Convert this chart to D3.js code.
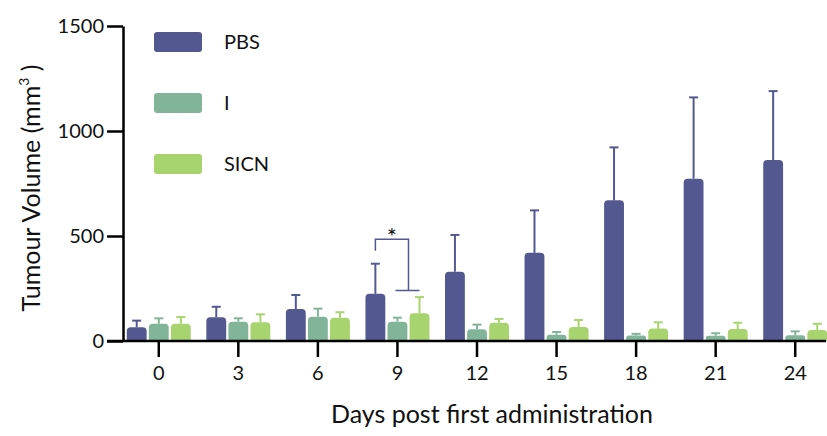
<!DOCTYPE html>
<html>
<head>
<meta charset="utf-8">
<script src="https://d3js.org/d3.v7.min.js"></script>
<style>
  body { margin: 0; background: #fff; }
  text { font-family: Lato, "Open Sans", sans-serif; fill: #111; }
</style>
</head>
<body>
<svg id="chart" width="827" height="436"></svg>
<script>
// data
const days = ["0", "3", "6", "9", "12", "15", "18", "21", "24"];
const groups = ["PBS", "I", "SICN"];
const pbsMean = [65, 113, 152, 225, 330, 420, 670, 773, 862];
const pbsSd   = [32, 50, 67, 143, 175, 202, 252, 387, 328];
const iMean   = [82, 92, 116, 92, 56, 30, 26, 25, 27];
const iSd     = [26, 16, 38, 19, 22, 13, 8, 12, 19];
const sicnMean = [82, 89, 111, 132, 87, 67, 59, 57, 52];
const sicnSd   = [32, 38, 26, 77, 18, 33, 30, 30, 30];
const yTicks = [0, 500, 1000, 1500];
const colors = ["#535891", "#82b49a", "#a8d46f"];
// significance bracket at day 9: top, left leg end, right leg end
const sigDay = "9";
const sigLevels = [484, 430, 241];

const svg = d3.select("#chart");
const mLeft = 123, mBottom = 341, mTop = 26;

const x = d3.scaleBand().domain(days).range([119, 835]).padding(0);
const xs = d3.scaleBand().domain(groups).range([-32, 32]).paddingInner(0.1);
const y = d3.scaleLinear().domain([0, 1500]).range([mBottom, mTop]);
const color = d3.scaleOrdinal().domain(groups).range(colors);

const means = { PBS: pbsMean, I: iMean, SICN: sicnMean };
const sds = { PBS: pbsSd, I: iSd, SICN: sicnSd };

const rows = [];
days.forEach((d, i) => groups.forEach(g => rows.push({ day: d, group: g, mean: means[g][i], sd: sds[g][i] })));

const cx = d => x(d.day) + x.bandwidth() / 2 + xs(d.group) + xs.bandwidth() / 2;

function barPath(d) {
  const w = xs.bandwidth(), x0 = cx(d) - w / 2, x1 = x0 + w;
  const y0 = y(0), y1 = y(d.mean);
  const r = Math.min(4, (y0 - y1) / 2);
  return `M${x0},${y0}V${y1 + r}Q${x0},${y1} ${x0 + r},${y1}H${x1 - r}Q${x1},${y1} ${x1},${y1 + r}V${y0}Z`;
}

// error bars (upper only)
const eb = svg.append("g").selectAll("g").data(rows).join("g")
  .attr("stroke", d => color(d.group)).attr("stroke-width", 2);
eb.append("line")
  .attr("x1", cx).attr("x2", cx)
  .attr("y1", d => y(d.mean)).attr("y2", d => y(d.mean + d.sd));
eb.append("line")
  .attr("x1", d => cx(d) - 4.5).attr("x2", d => cx(d) + 4.5)
  .attr("y1", d => y(d.mean + d.sd)).attr("y2", d => y(d.mean + d.sd));

// bars
svg.append("g").selectAll("path").data(rows).join("path")
  .attr("d", barPath)
  .attr("fill", d => color(d.group));

// axes
const yAxis = svg.append("g").attr("transform", `translate(${mLeft},0)`)
  .call(d3.axisLeft(y).tickValues(yTicks).tickFormat(d3.format("d")).tickSize(16).tickSizeOuter(0).tickPadding(3));
yAxis.select(".domain").attr("stroke", "#000").attr("stroke-width", 2.5);
yAxis.selectAll(".tick line").attr("stroke", "#000").attr("stroke-width", 2.5);
yAxis.selectAll(".tick text").attr("font-size", 20).attr("font-family", "Lato").attr("fill", "#111");

const xAxis = svg.append("g").attr("transform", `translate(0,${mBottom})`)
  .call(d3.axisBottom(x).tickSize(16).tickSizeOuter(0).tickPadding(9));
xAxis.select(".domain").remove();
xAxis.append("line").attr("x1", mLeft - 16).attr("x2", 826).attr("stroke", "#000").attr("stroke-width", 2.5);
xAxis.selectAll(".tick line").attr("stroke", "#000").attr("stroke-width", 2.5);
xAxis.selectAll(".tick text").attr("font-size", 20).attr("font-family", "Lato").attr("fill", "#111");

// significance bracket
const pX = cx({ day: sigDay, group: "PBS" });
const iX = cx({ day: sigDay, group: "I" });
const sX = cx({ day: sigDay, group: "SICN" });
const rX = (iX + sX) / 2;
svg.append("path")
  .attr("d", `M${pX},${y(sigLevels[1])}V${y(sigLevels[0])}H${rX}V${y(sigLevels[2])}M${iX - 2},${y(sigLevels[2])}H${sX}`)
  .attr("fill", "none").attr("stroke", colors[0]).attr("stroke-width", 1.5);
svg.append("text").attr("x", (pX + rX) / 2).attr("y", y(sigLevels[0]) + 6)
  .attr("text-anchor", "middle").attr("font-size", 24).attr("fill", "#000").text("*");

// legend
const lg = svg.append("g").selectAll("g").data(groups).join("g")
  .attr("transform", (d, i) => `translate(154,${32 + i * 61})`);
lg.append("rect").attr("width", 48).attr("height", 20).attr("rx", 3).attr("fill", d => color(d));
lg.append("text").attr("x", 70).attr("y", 17).attr("font-size", 20).text(d => d);

// titles
svg.append("text").attr("x", 492).attr("y", 423).attr("text-anchor", "middle")
  .attr("font-size", 25).text("Days post first administration");
const yt = svg.append("text").attr("transform", "translate(40,188) rotate(-90)")
  .attr("text-anchor", "middle").attr("font-size", 25);
yt.append("tspan").text("Tumour Volume (mm");
yt.append("tspan").attr("font-size", 14).attr("dy", -11).text("3");
yt.append("tspan").attr("dy", 11).text(" )");
</script>
</body>
</html>
